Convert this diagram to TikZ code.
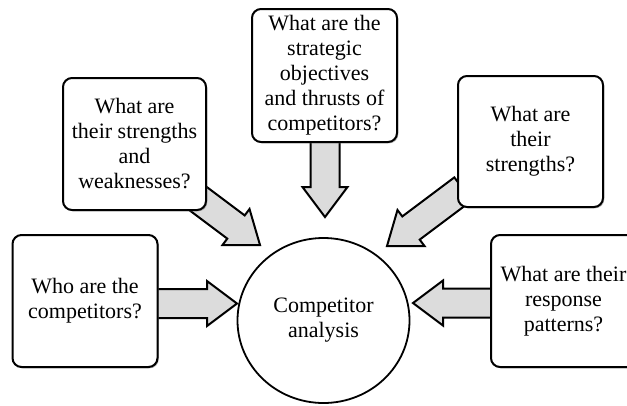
\documentclass[tikz,border=0pt]{standalone}
\usepackage{fontspec}
\setmainfont{Liberation Serif}
\usetikzlibrary{calc,shapes.geometric,shadows,backgrounds}

\definecolor{arrowfill}{HTML}{DCDCDC}

\tikzset{
    qbox/.style={draw, line width=2pt, rounded corners=9pt, fill=white,
        minimum width=145pt, minimum height=132pt, inner sep=0pt, align=center,
        font=\fontsize{22}{25}\selectfont,
        drop shadow={shadow xshift=1.3pt, shadow yshift=-1.3pt, fill=black!45, opacity=0.6}},
    fatarrow/.style={draw, line width=2pt, fill=arrowfill, line join=miter}
}

% block arrow from #1 (inside a box) to its tip #2
\newcommand{\blockarrow}[2]{%
    \coordinate (head) at ($(#2)!30pt!(#1)$);
    \draw[fatarrow] ($(#1)!14.5pt!90:(#2)$) -- ($(head)!14.5pt!90:(#2)$)
        -- ($(head)!22.5pt!90:(#2)$) -- (#2) -- ($(head)!22.5pt!-90:(#2)$)
        -- ($(head)!14.5pt!-90:(#2)$) -- ($(#1)!14.5pt!-90:(#2)$) -- cycle;
}

\begin{document}
\begin{tikzpicture}[x=1pt, y=-1pt]
        \useasboundingbox (0,0) rectangle (627,405);

        \node[qbox] (who) at (85,301) {Who are the\\competitors?};
        \node[qbox, minimum width=143pt] (weak) at (134.5,144) {What are\\their strengths\\and\\weaknesses?};
        \node[qbox, minimum height=133pt] (thrust) at (324.5,75.5) {What are the\\strategic\\objectives\\and thrusts of\\competitors?};
        \node[qbox, minimum height=131pt] (strong) at (530.5,141.5) {What are\\their\\strengths?};
        \node[qbox] (resp) at (563.5,301) {What are their\\response\\patterns?};

        \node[ellipse, draw, line width=1.8pt, minimum width=172pt, minimum height=165pt,
            align=center, font=\fontsize{22}{25}\selectfont] (core) at (323.5,320.5) {Competitor\\analysis};

        % start points sit inside the boxes, tips stop at the circle
        \coordinate (s-who) at ($(who.east)+(-10,2.5)$);
        \coordinate (t-who) at (237,303.5);
        \coordinate (s-weak) at (184,188);
        \coordinate (t-weak) at (260,245);
        \coordinate (s-thrust) at ($(thrust.south)+(0.5,-10)$);
        \coordinate (t-thrust) at (325,217);
        \coordinate (s-strong) at (463,189);
        \coordinate (t-strong) at (387,246);
        \coordinate (s-resp) at ($(resp.west)+(10,2)$);
        \coordinate (t-resp) at (413,303);

        \begin{pgfonlayer}{background}
            \foreach \s/\t in {s-who/t-who, s-weak/t-weak, s-thrust/t-thrust, s-strong/t-strong, s-resp/t-resp} {
                \blockarrow{\s}{\t}
            }
        \end{pgfonlayer}
    \end{tikzpicture}
\end{document}
